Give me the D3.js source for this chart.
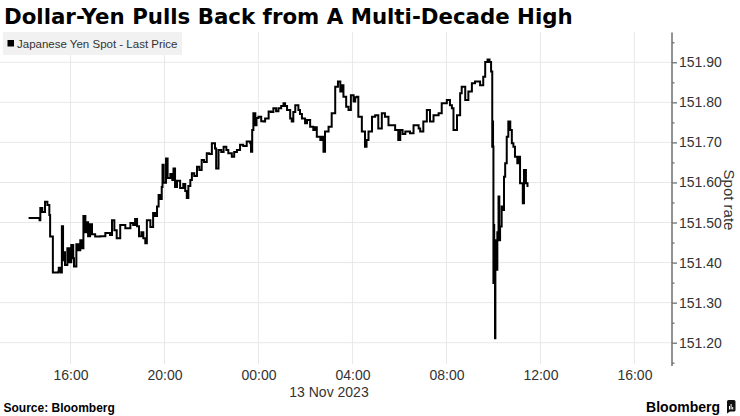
<!DOCTYPE html>
<html><head><meta charset="utf-8">
<script src="https://cdn.jsdelivr.net/npm/d3@7"></script>
<style>body{margin:0;background:#fff}svg{display:block}</style>
</head><body><svg id="c" width="740" height="416"></svg>
<script>
const times = [
"12T14:13","12T14:41","12T14:43","12T14:48","12T14:55","12T15:01","12T15:06","12T15:08","12T15:13","12T15:15",
"12T15:29","12T15:30","12T15:35","12T15:38","12T15:41","12T15:44","12T15:46","12T15:52","12T15:57","12T16:02",
"12T16:07","12T16:09","12T16:15","12T16:20","12T16:25","12T16:30","12T16:33","12T16:38","12T16:40","12T16:45",
"12T16:50","12T16:55","12T17:03","12T17:16","12T17:29","12T17:41","12T17:46","12T17:52","12T17:58","12T18:07",
"12T18:20","12T18:33","12T18:40","12T18:45","12T18:50","12T18:55","12T19:01","12T19:06","12T19:11","12T19:15",
"12T19:24","12T19:31","12T19:36","12T19:41","12T19:45","12T19:49","12T19:53","12T19:55","12T19:58","12T20:04",
"12T20:08","12T20:15","12T20:20","12T20:23","12T20:27","12T20:32","12T20:40","12T20:48","12T20:53","12T20:57",
"12T21:01","12T21:06","12T21:10","12T21:16","12T21:23","12T21:29","12T21:35","12T21:41","12T21:48","12T21:54",
"12T22:01","12T22:09","12T22:12","12T22:18","12T22:25","12T22:31","12T22:38","12T22:43","12T22:52","12T22:58",
"12T23:05","12T23:13","12T23:21","12T23:30","12T23:39","12T23:41","12T23:44","12T23:47","12T23:52","12T23:55",
"13T00:00","13T00:07","13T00:13","13T00:17","13T00:26","13T00:32","13T00:38","13T00:45","13T00:51","13T00:58",
"13T01:04","13T01:08","13T01:13","13T01:21","13T01:25","13T01:29","13T01:34","13T01:42","13T01:46","13T01:51",
"13T01:59","13T02:04","13T02:12","13T02:20","13T02:25","13T02:29","13T02:38","13T02:43","13T02:46","13T02:50",
"13T02:59","13T03:07","13T03:16","13T03:23","13T03:29","13T03:32","13T03:37","13T03:44","13T03:50","13T03:56",
"13T04:03","13T04:07","13T04:11","13T04:15","13T04:24","13T04:32","13T04:36","13T04:41","13T04:50","13T04:58",
"13T05:06","13T05:15","13T05:23","13T05:32","13T05:41","13T05:49","13T05:57","13T06:02","13T06:08","13T06:15",
"13T06:27","13T06:36","13T06:49","13T06:53","13T07:01","13T07:10","13T07:18","13T07:27","13T07:40","13T07:48",
"13T08:01","13T08:09","13T08:14","13T08:18","13T08:27","13T08:35","13T08:39","13T08:48","13T08:56","13T09:05",
"13T09:13","13T09:26","13T09:34","13T09:39","13T09:45","13T09:50","13T09:54","13T09:57","13T09:58","13T09:59",
"13T10:00","13T10:01","13T10:02","13T10:04","13T10:05","13T10:08","13T10:10","13T10:13","13T10:15","13T10:17",
"13T10:21","13T10:26","13T10:27","13T10:30","13T10:34","13T10:38","13T10:43","13T10:47","13T10:51","13T10:55",
"13T11:01","13T11:06","13T11:08","13T11:15","13T11:18","13T11:23","13T11:27"
];
const values = [
151.511,151.506,151.536,151.526,151.552,151.544,151.519,151.465,151.465,151.375,
151.377,151.387,151.375,151.491,151.406,151.426,151.394,151.436,151.401,151.444,
151.411,151.390,151.446,151.431,151.456,151.436,151.516,151.476,151.501,151.466,
151.496,151.471,151.465,151.466,151.474,151.469,151.506,151.481,151.461,151.494,
151.486,151.499,151.494,151.509,151.491,151.466,151.476,151.461,151.448,151.506,
151.489,151.524,151.516,151.540,151.569,151.559,151.589,151.644,151.599,151.660,
151.611,151.621,151.606,151.635,151.589,151.604,151.586,151.596,151.579,151.561,
151.591,151.606,151.623,151.616,151.639,151.631,151.656,151.651,151.673,151.671,
151.698,151.685,151.635,151.681,151.676,151.689,151.681,151.673,151.664,151.676,
151.681,151.694,151.691,151.702,151.698,151.677,151.731,151.773,151.743,151.761,
151.764,151.753,151.752,151.760,151.777,151.776,151.785,151.778,151.785,151.791,
151.798,151.791,151.781,151.760,151.752,151.776,151.793,151.781,151.771,151.760,
151.748,151.756,151.739,151.731,151.738,151.714,151.706,151.714,151.677,151.727,
151.739,151.773,151.839,151.852,151.827,151.843,151.814,151.789,151.781,151.818,
151.802,151.813,151.814,151.764,151.727,151.689,151.706,151.727,151.764,151.768,
151.735,151.773,151.764,151.743,151.743,151.731,151.706,151.731,151.721,151.727,
151.723,151.743,151.735,151.727,151.752,151.781,151.752,151.768,151.773,151.798,
151.806,151.793,151.785,151.731,151.768,151.823,151.839,151.806,151.827,151.848,
151.852,151.843,151.864,151.901,151.907,151.901,151.877,151.689,151.752,151.690,
151.349,151.494,151.369,151.211,151.456,151.382,151.476,151.565,151.456,151.490,
151.540,151.531,151.614,151.648,151.714,151.752,151.731,151.698,151.689,151.664,
151.648,151.664,151.598,151.548,151.631,151.598,151.589
];
const yTicks = [151.2,151.3,151.4,151.5,151.6,151.7,151.8,151.9];
const yMinor = [151.15,151.25,151.35,151.45,151.55,151.65,151.75,151.85,151.95];
const xTicks = ["12T16:00","12T20:00","13T00:00","13T04:00","13T08:00","13T12:00","13T16:00"];
const xDomain = ["12T13:00","13T17:36"];
const title = "Dollar-Yen Pulls Back from A Multi-Decade High";
const legendLabel = "Japanese Yen Spot - Last Price";
const dateLabel = "13 Nov 2023";
const axisTitle = "Spot rate";
const source = "Source: Bloomberg";

const parse = s => d3.timeParse("%Y-%m-%dT%H:%M")("2023-11-" + s);
const data = times.map((t, i) => ({t: parse(t), v: values[i]}));

const svg = d3.select("#c");
const W = 740, H = 416;
const plotTop = 32, plotBottom = 364, plotRight = 672;
const x = d3.scaleTime().domain(xDomain.map(parse)).range([0, plotRight]);
const y = d3.scaleLinear().domain([151.2, 151.9]).range([342.7, 62.3]);
const sans = "'Liberation Sans', Arial, sans-serif";

svg.append("rect").attr("width", W).attr("height", H).attr("fill", "#fff");

// title
const tt = svg.append("text").attr("x", 4).attr("y", 24)
  .attr("font-family", "'DejaVu Sans', Verdana, sans-serif").attr("font-weight", "bold")
  .attr("font-size", 20).attr("fill", "#000").text(title);
const tl = tt.node().getComputedTextLength();
tt.attr("font-size", 20 * 569 / tl);

// grid
const g = svg.append("g");
g.selectAll("line.h").data(yTicks).join("line")
  .attr("x1", 0).attr("x2", plotRight).attr("y1", d => y(d)).attr("y2", d => y(d))
  .attr("stroke", "#e8e8e8").attr("stroke-width", 1);
g.selectAll("line.v").data(xTicks.map(parse)).join("line")
  .attr("x1", d => x(d)).attr("x2", d => x(d)).attr("y1", plotTop).attr("y2", plotBottom)
  .attr("stroke", "#e8e8e8").attr("stroke-width", 1);

// legend
svg.append("rect").attr("x", 3).attr("y", 32).attr("width", 179).attr("height", 23).attr("fill", "#f1f1f1");
svg.append("rect").attr("x", 7.5).attr("y", 40).attr("width", 6.5).attr("height", 6.5).attr("fill", "#000");
svg.append("text").attr("x", 17).attr("y", 48).attr("font-family", sans).attr("font-size", 11.5)
  .attr("fill", "#333").text(legendLabel);

// line
const line = d3.line().x(d => x(d.t)).y(d => y(d.v)).curve(d3.curveStepAfter);
svg.append("path").datum(data).attr("d", line).attr("fill", "none")
  .attr("stroke", "#000").attr("stroke-width", 2).attr("stroke-linejoin", "miter");

// right axis
const ax = svg.append("g").attr("transform", `translate(${plotRight},0)`);
ax.call(d3.axisRight(y).tickValues(yTicks).tickFormat(d3.format(".2f")).tickSizeInner(5).tickSizeOuter(0).tickPadding(2));
ax.select(".domain").remove();
ax.selectAll(".tick line").attr("stroke", "#666").attr("stroke-width", 1.2);
ax.selectAll(".tick text").attr("font-family", sans).attr("font-size", 14).attr("fill", "#333");
const axm = svg.append("g").attr("transform", `translate(${plotRight},0)`);
axm.call(d3.axisRight(y).tickValues(yMinor).tickFormat("").tickSizeInner(2.5).tickSizeOuter(0));
axm.select(".domain").remove();
axm.selectAll(".tick line").attr("stroke", "#666").attr("stroke-width", 1.2);
svg.append("line").attr("x1", plotRight).attr("x2", plotRight).attr("y1", 32.5).attr("y2", 366)
  .attr("stroke", "#777").attr("stroke-width", 1.6);

svg.append("text").attr("transform", "translate(724,200) rotate(90)").attr("text-anchor", "middle")
  .attr("font-family", sans).attr("font-size", 15).attr("fill", "#333").text(axisTitle);

// bottom axis
const bx = svg.append("g").attr("transform", "translate(0,370)");
bx.call(d3.axisBottom(x).tickValues(xTicks.map(parse)).tickFormat(d3.timeFormat("%H:%M")).tickSize(0).tickPadding(0));
bx.select(".domain").remove();
bx.selectAll(".tick text").attr("font-family", sans).attr("font-size", 14).attr("fill", "#333");

svg.append("text").attr("x", 329).attr("y", 397).attr("text-anchor", "middle")
  .attr("font-family", sans).attr("font-size", 14).attr("fill", "#333").text(dateLabel);

// footer
svg.append("text").attr("x", 3.5).attr("y", 412).attr("font-family", sans).attr("font-weight", "bold")
  .attr("font-size", 12).attr("fill", "#000").text(source);
svg.append("text").attr("x", 720).attr("y", 412).attr("text-anchor", "end").attr("font-family", sans)
  .attr("font-weight", "bold").attr("font-size", 14).attr("fill", "#000").text("Bloomberg");
const logo = svg.append("g").attr("transform", "translate(727,400)");
logo.append("path").attr("d", "M0,1.5Q0,0 1.5,0H7Q8.5,0 8.5,1.5V10Q8.5,11.5 7,11.5H3L0,13.5Z").attr("fill", "#111");
[[2,6,1],[3.6,4,1],[5.2,7,1]].forEach(([bxp, by, bw]) =>
  logo.append("rect").attr("x", bxp).attr("y", by).attr("width", bw).attr("height", 9.5 - by).attr("fill", "#fff"));
</script>
</body></html>
